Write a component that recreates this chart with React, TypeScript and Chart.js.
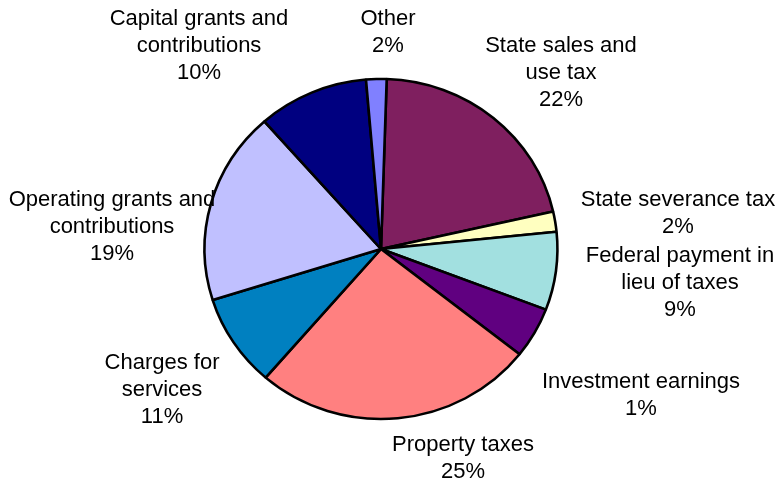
import React, { useEffect, useRef } from "react";
import { Chart, registerables } from "chart.js";

Chart.register(...registerables);

const categories: string[][] = [
  ["State sales and", "use tax"],
  ["State severance tax"],
  ["Federal payment in", "lieu of taxes"],
  ["Investment earnings"],
  ["Property taxes"],
  ["Charges for", "services"],
  ["Operating grants and", "contributions"],
  ["Capital grants and", "contributions"],
  ["Other"],
];

// slice sizes as drawn (share of the circle, %)
const sliceValues: number[] = [20.95, 1.91, 7.43, 4.83, 25.71, 8.81, 18.36, 10.14, 1.87];

// percentages printed on the labels
const percentLabels: string[] = ["22%", "2%", "9%", "1%", "25%", "11%", "19%", "10%", "2%"];

const colors: string[] = [
  "#7F1F5F",
  "#FFFFC0",
  "#A2E0E0",
  "#600080",
  "#FF8080",
  "#0080C0",
  "#C0C0FF",
  "#000080",
  "#8080FF",
];

// label block placement relative to pie centre (first line centre)
const labelOffsets: [number, number][] = [
  [180, -203],
  [297, -49],
  [299, 7],
  [260, 133],
  [82, 196],
  [-219, 114],
  [-269, -49],
  [-182, -230],
  [7, -230],
];

const LINE_H = 27;
const X_STRETCH = 1.038;

const labelPlugin = {
  id: "outsideLabels",
  beforeDatasetsDraw(chart: any) {
    const meta = chart.getDatasetMeta(0);
    const arc = meta.data[0];
    const ctx = chart.ctx as CanvasRenderingContext2D;
    ctx.save();
    if (arc) {
      ctx.translate(arc.x, arc.y);
      ctx.scale(X_STRETCH, 1);
      ctx.translate(-arc.x, -arc.y);
    }
  },
  afterDatasetsDraw(chart: any) {
    const meta = chart.getDatasetMeta(0);
    const ctx = chart.ctx as CanvasRenderingContext2D;
    ctx.restore();
    ctx.save();
    ctx.font = '22px "Liberation Sans", Arial, sans-serif';
    ctx.fillStyle = "#000";
    ctx.textAlign = "center";
    ctx.textBaseline = "middle";
    meta.data.forEach((arc: any, i: number) => {
      const lines = [...categories[i], percentLabels[i]];
      const [dx, dy] = labelOffsets[i];
      lines.forEach((t, j) => {
        ctx.fillText(t, arc.x + dx, arc.y + dy + j * LINE_H);
      });
    });
    ctx.restore();
  },
};

export default function App() {
  const ref = useRef<HTMLCanvasElement | null>(null);
  useEffect(() => {
    document.body.style.margin = "0";
    if (!ref.current) return;
    const chart = new Chart(ref.current, {
      type: "pie",
      data: {
        labels: categories.map((c) => c.join(" ")),
        datasets: [
          {
            data: sliceValues,
            backgroundColor: colors,
            borderColor: "#000",
            borderWidth: 2.5,
            radius: 170,
          } as any,
        ],
      },
      options: {
        animation: false,
        responsive: true,
        maintainAspectRatio: false,
        rotation: 1.85,
        layout: { padding: { left: 0, right: 20, top: 16, bottom: 0 } },
        plugins: {
          legend: { display: false },
          tooltip: { enabled: false },
          title: { display: false },
        },
      },
      plugins: [labelPlugin],
    });
    return () => chart.destroy();
  }, []);
  return (
    <div style={{ width: 782, height: 482, position: "relative", background: "#fff" }}>
      <canvas ref={ref} />
    </div>
  );
}
